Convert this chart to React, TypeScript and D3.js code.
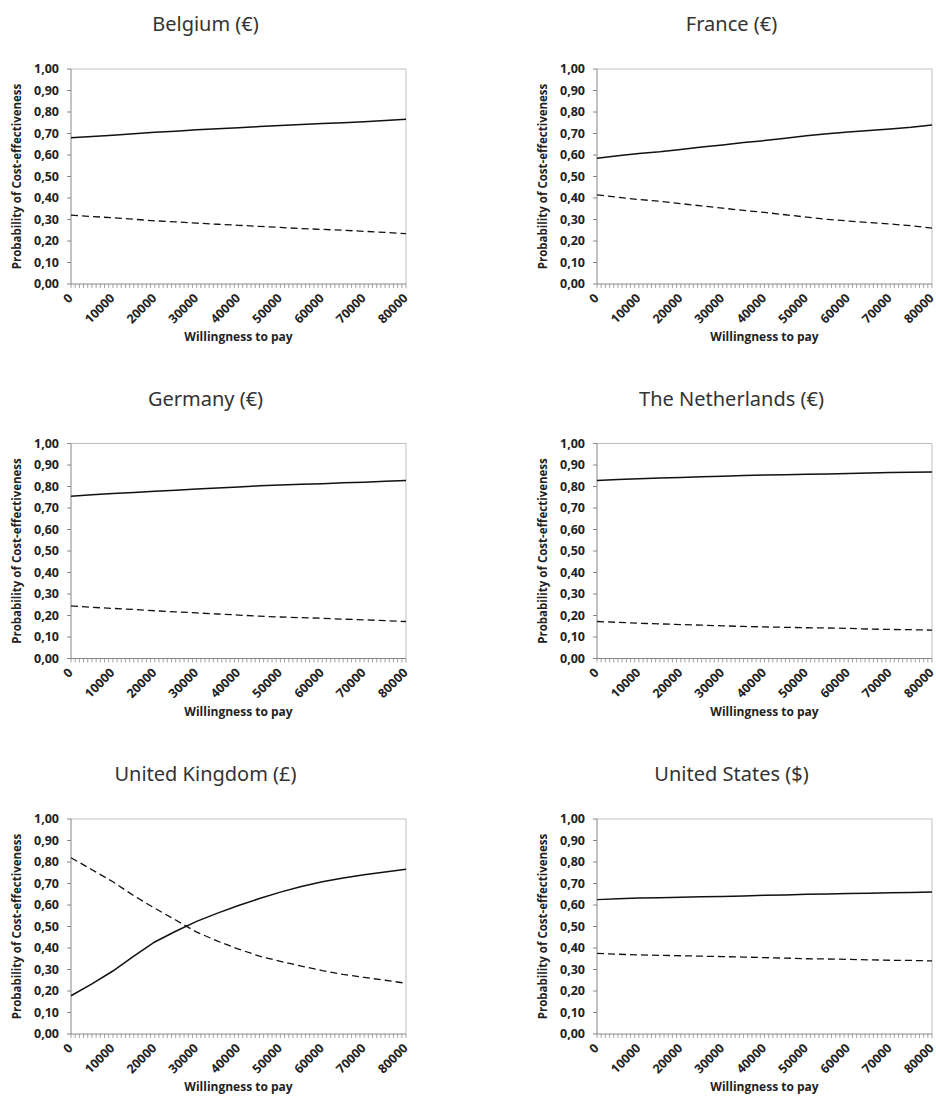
import React from "react";
import * as d3 from "d3";

// Willingness-to-pay thresholds (x values shared by every panel)
const WTP = [0, 5000, 10000, 15000, 20000, 25000, 30000, 35000, 40000, 45000, 50000, 55000, 60000, 65000, 70000, 75000, 80000];

// Probability of cost-effectiveness per country: intervention (solid) and comparator (dashed)
const belgiumSolid = [0.680, 0.686, 0.692, 0.699, 0.706, 0.711, 0.717, 0.722, 0.727, 0.732, 0.737, 0.742, 0.746, 0.750, 0.755, 0.760, 0.766];
const belgiumDashed = [0.320, 0.314, 0.308, 0.301, 0.294, 0.289, 0.283, 0.278, 0.273, 0.268, 0.263, 0.258, 0.254, 0.250, 0.245, 0.240, 0.234];

const franceSolid = [0.585, 0.597, 0.607, 0.615, 0.626, 0.637, 0.647, 0.658, 0.667, 0.678, 0.689, 0.699, 0.707, 0.714, 0.721, 0.729, 0.740];
const franceDashed = [0.415, 0.403, 0.393, 0.385, 0.374, 0.363, 0.353, 0.342, 0.333, 0.322, 0.311, 0.301, 0.293, 0.286, 0.279, 0.271, 0.260];

const germanySolid = [0.755, 0.762, 0.767, 0.772, 0.778, 0.783, 0.788, 0.793, 0.798, 0.803, 0.807, 0.810, 0.813, 0.817, 0.820, 0.824, 0.828];
const germanyDashed = [0.245, 0.238, 0.233, 0.228, 0.222, 0.217, 0.212, 0.207, 0.202, 0.197, 0.193, 0.190, 0.187, 0.183, 0.180, 0.176, 0.172];

const netherlandsSolid = [0.828, 0.832, 0.836, 0.839, 0.842, 0.845, 0.848, 0.851, 0.853, 0.855, 0.857, 0.858, 0.860, 0.863, 0.865, 0.866, 0.868];
const netherlandsDashed = [0.172, 0.168, 0.164, 0.161, 0.158, 0.155, 0.152, 0.149, 0.147, 0.145, 0.143, 0.142, 0.140, 0.137, 0.135, 0.134, 0.132];

const ukSolid = [0.178, 0.233, 0.293, 0.362, 0.428, 0.478, 0.524, 0.562, 0.598, 0.630, 0.660, 0.686, 0.708, 0.726, 0.741, 0.754, 0.766];
const ukDashed = [0.820, 0.764, 0.708, 0.643, 0.585, 0.530, 0.474, 0.432, 0.395, 0.362, 0.338, 0.316, 0.295, 0.277, 0.263, 0.250, 0.236];

const usSolid = [0.625, 0.629, 0.632, 0.634, 0.636, 0.638, 0.640, 0.642, 0.645, 0.647, 0.650, 0.651, 0.653, 0.655, 0.657, 0.658, 0.660];
const usDashed = [0.375, 0.371, 0.368, 0.366, 0.364, 0.362, 0.360, 0.358, 0.355, 0.353, 0.350, 0.349, 0.347, 0.345, 0.343, 0.342, 0.340];

const titles = ["Belgium (€)", "France (€)", "Germany (€)", "The Netherlands (€)", "United Kingdom (£)", "United States ($)"];
const solidSeries = [belgiumSolid, franceSolid, germanySolid, netherlandsSolid, ukSolid, usSolid];
const dashedSeries = [belgiumDashed, franceDashed, germanyDashed, netherlandsDashed, ukDashed, usDashed];

// Axis ticks
const yTicks = [0, 0.1, 0.2, 0.3, 0.4, 0.5, 0.6, 0.7, 0.8, 0.9, 1.0];
const xLabelTicks = [0, 10000, 20000, 30000, 40000, 50000, 60000, 70000, 80000];
const xMinorStep = 1000;

const W = 936;
const H = 1096;
const plotW = 335;
const plotH = 215;
const colX = [71, 597];
const rowY = [69, 443.5, 819];

const labelFont = "'Open Sans', 'DejaVu Sans', sans-serif";
const titleFont = "'Noto Sans', 'DejaVu Sans', sans-serif";

function Panel({ left, top, title, solid, dashed }: { left: number; top: number; title: string; solid: number[]; dashed: number[] }) {
  const x = d3.scaleLinear().domain([0, 80000]).range([0, plotW]);
  const y = d3.scaleLinear().domain([0, 1]).range([plotH, 0]);
  const line = d3
    .line<number>()
    .x((_, i) => x(WTP[i]))
    .y((d) => y(d));
  const minor = d3.range(0, 80000 + 1, xMinorStep);
  const fmt = (v: number) => v.toFixed(2).replace(".", ",");

  return (
    <g transform={`translate(${left},${top})`}>
      <text x={plotW / 2 - 33} y={-38} textAnchor="middle" fontFamily={titleFont} fontSize={20} fill="#333">
        {title}
      </text>
      {/* plot frame: light top/right borders */}
      <path d={`M0,0H${plotW}V${plotH}`} fill="none" stroke="#bfbfbf" strokeWidth={1} />
      {/* y axis */}
      <line x1={0} x2={0} y1={0} y2={plotH} stroke="#868686" strokeWidth={1} />
      {yTicks.map((t) => (
        <g key={t}>
          <line x1={-4} x2={0} y1={y(t)} y2={y(t)} stroke="#868686" />
          <text x={-12} y={y(t)} dy="0.35em" textAnchor="end" fontFamily={labelFont} fontWeight={700} fontSize={12.5} fill="#222">
            {fmt(t)}
          </text>
        </g>
      ))}
      {/* x axis */}
      <line x1={0} x2={plotW} y1={plotH} y2={plotH} stroke="#868686" strokeWidth={1} />
      {minor.map((t) => (
        <line key={t} x1={x(t)} x2={x(t)} y1={plotH} y2={plotH + 4} stroke="#8a8a8a" strokeWidth={0.8} />
      ))}
      {xLabelTicks.map((t) => (
        <text
          key={t}
          transform={`translate(${x(t) + 2.5},${plotH + 15}) rotate(-45)`}
          textAnchor="end"
          fontFamily={labelFont}
          fontWeight={700}
          fontSize={12.5}
          fill="#222"
        >
          {t}
        </text>
      ))}
      <text x={plotW / 2} y={plotH + 57} textAnchor="middle" fontFamily={labelFont} fontWeight={700} fontSize={12} fill="#222">
        Willingness to pay
      </text>
      <text
        transform={`translate(${-54},${plotH / 2}) rotate(-90)`}
        dy="0.35em"
        textAnchor="middle"
        fontFamily={labelFont}
        fontWeight={700}
        fontSize={11.5}
        fill="#222"
      >
        Probability of Cost-effectiveness
      </text>
      {/* series */}
      <path d={line(solid) || ""} fill="none" stroke="#111" strokeWidth={1.5} />
      <path d={line(dashed) || ""} fill="none" stroke="#111" strokeWidth={1.3} strokeDasharray="7,4" />
    </g>
  );
}

export default function App() {
  return (
    <svg
      width={W}
      height={H}
      viewBox={`0 0 ${W} ${H}`}
      style={{ position: "absolute", left: 0, top: 0, background: "#fff" }}
    >
      <rect width={W} height={H} fill="#fff" />
      {titles.map((t, i) => (
        <Panel
          key={t}
          left={colX[i % 2]}
          top={rowY[Math.floor(i / 2)]}
          title={t}
          solid={solidSeries[i]}
          dashed={dashedSeries[i]}
        />
      ))}
    </svg>
  );
}
